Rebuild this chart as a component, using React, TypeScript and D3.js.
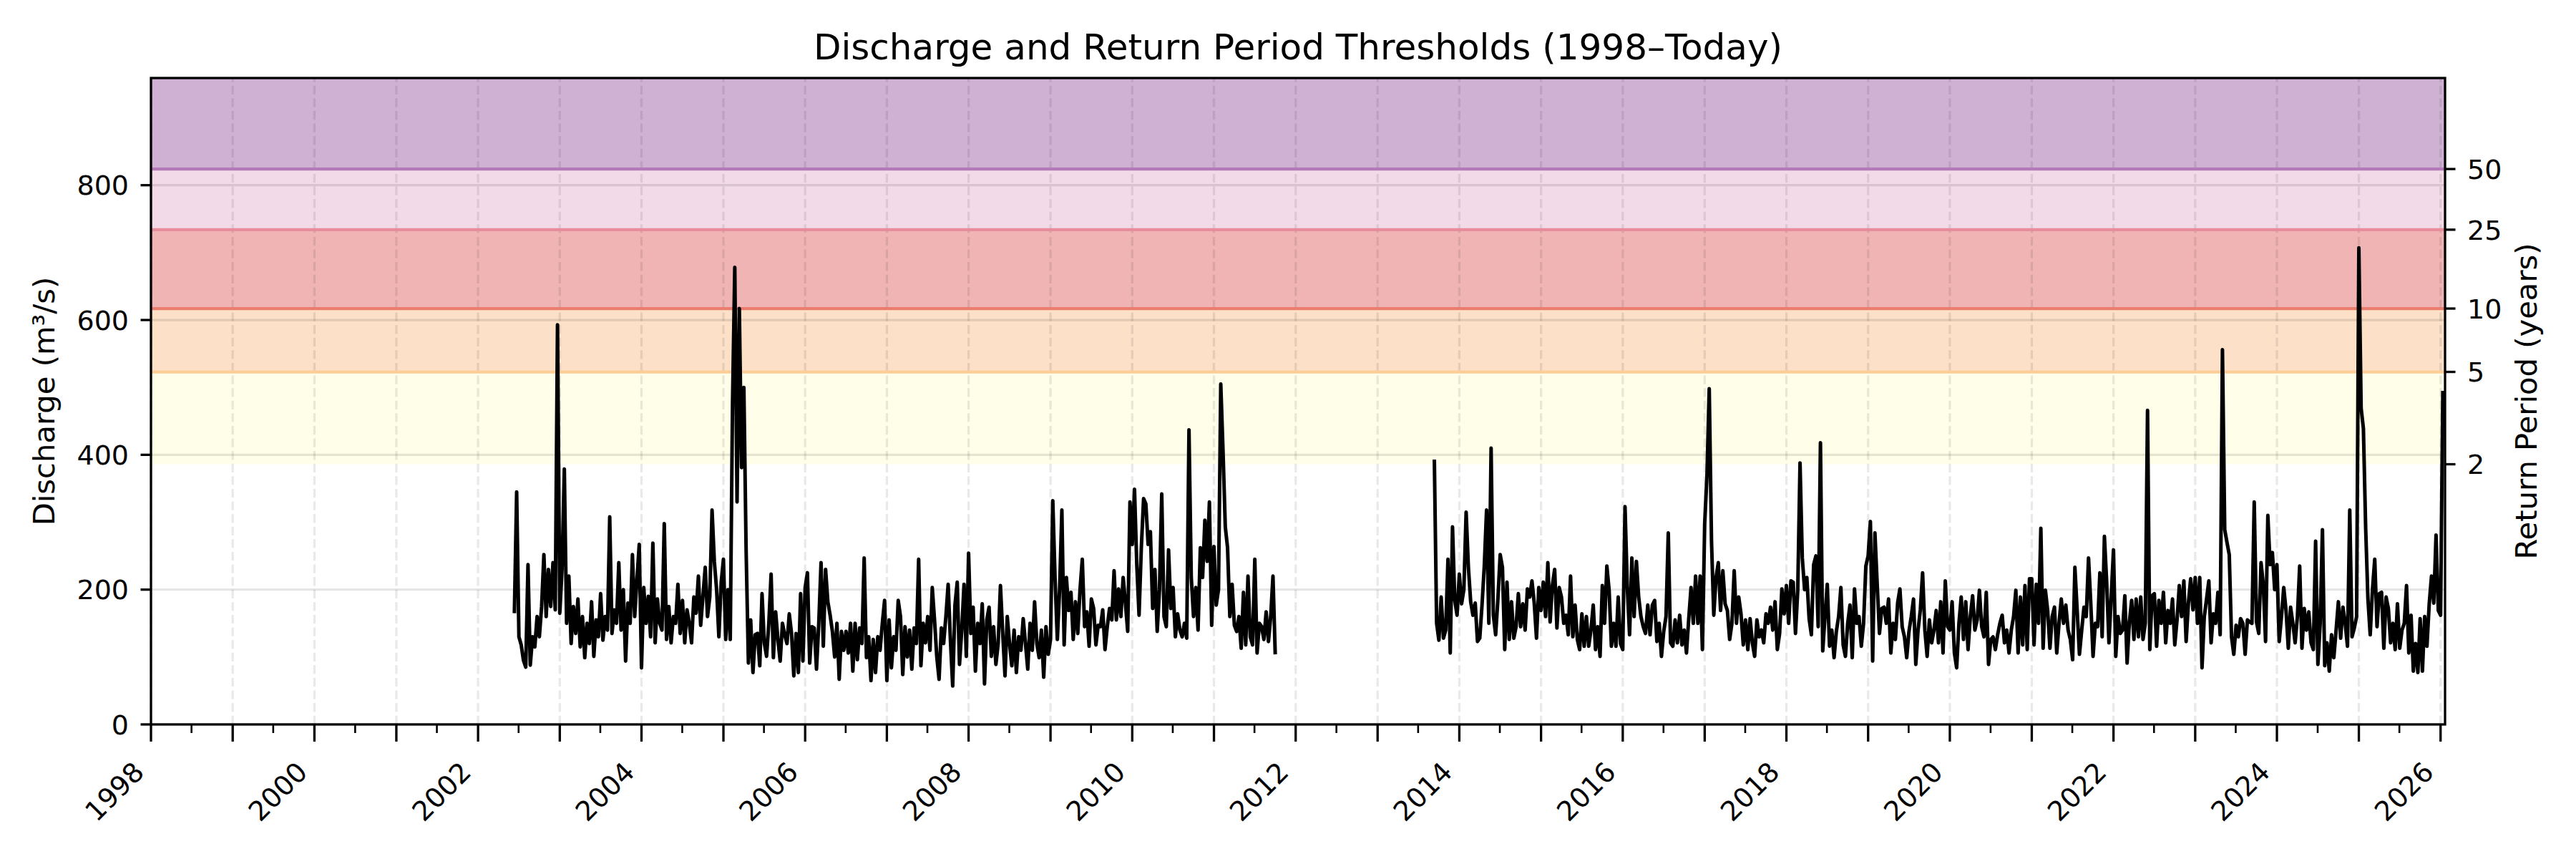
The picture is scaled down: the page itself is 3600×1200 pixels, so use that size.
import * as d3 from 'd3'

// discharge (m³/s) in 36 steps per year (≈ every 10 days)
// each entry: [year, first slot, values]
const q2002 = [165, 345, 130, 118, 95, 85, 237, 88, 130, 115, 160, 130, 175, 252, 160, 230, 175, 240, 170, 593]
const q2003 = [165, 230, 379, 150, 220, 120, 175, 135, 186, 115, 160, 99, 150, 120, 182, 101, 155, 130, 194, 125, 160, 140, 308, 135, 170, 150, 240, 140, 200, 94, 180, 150, 252, 160, 215, 267]
const q2004 = [84, 203, 150, 190, 130, 269, 121, 186, 150, 140, 298, 126, 175, 121, 160, 150, 208, 135, 184, 121, 170, 150, 121, 189, 165, 220, 147, 190, 233, 160, 189, 318, 242, 200, 130, 210]
const q2005 = [245, 126, 200, 126, 476, 678, 330, 617, 381, 500, 257, 91, 155, 77, 133, 135, 87, 194, 121, 101, 150, 223, 99, 167, 126, 94, 150, 133, 120, 164, 135, 72, 135, 77, 194, 94]
const q2006 = [203, 225, 91, 145, 143, 82, 150, 240, 116, 230, 182, 162, 138, 100, 150, 67, 138, 110, 138, 106, 150, 79, 150, 96, 143, 120, 247, 99, 130, 65, 126, 77, 130, 110, 150, 184]
const q2007 = [65, 155, 84, 130, 110, 184, 160, 74, 145, 100, 140, 82, 143, 120, 245, 87, 150, 121, 160, 110, 203, 155, 100, 67, 143, 120, 160, 208, 125, 57, 177, 211, 89, 140, 208, 101]
const q2008 = [254, 135, 174, 79, 150, 120, 179, 60, 155, 174, 101, 145, 89, 120, 206, 135, 72, 160, 120, 87, 140, 77, 130, 110, 157, 120, 82, 150, 110, 182, 120, 99, 140, 70, 145, 104]
const q2009 = [126, 332, 216, 126, 200, 318, 118, 218, 169, 196, 126, 182, 135, 200, 245, 145, 167, 116, 186, 172, 118, 147, 145, 170, 111, 145, 172, 155, 228, 155, 201, 160, 218, 180, 138, 330]
const q2010 = [267, 349, 237, 162, 262, 335, 327, 267, 286, 172, 230, 138, 200, 342, 160, 145, 259, 172, 203, 130, 164, 140, 130, 150, 128, 437, 218, 160, 203, 140, 262, 218, 303, 242, 330, 147]
const q2011 = [264, 177, 200, 505, 405, 293, 262, 160, 208, 147, 138, 160, 113, 196, 118, 220, 130, 118, 245, 106, 150, 145, 126, 167, 123, 160, 220, 104]
const q2013 = [393, 150, 125, 189, 128, 140, 245, 106, 293, 184, 162]
const q2014 = [223, 179, 200, 315, 233, 182, 162, 180, 123, 128, 177, 235, 318, 150, 410, 162, 133, 186, 252, 233, 111, 211, 126, 182, 128, 145, 194, 145, 179, 140, 201, 189, 213, 180, 128, 203]
const q2015 = [169, 211, 160, 240, 152, 206, 230, 143, 203, 189, 150, 162, 133, 220, 130, 177, 126, 111, 164, 116, 160, 116, 140, 177, 111, 145, 101, 206, 150, 235, 199, 116, 150, 116, 189, 120]
const q2016 = [111, 323, 203, 133, 247, 160, 242, 189, 160, 145, 135, 177, 133, 177, 184, 123, 150, 101, 138, 160, 284, 121, 116, 155, 121, 162, 118, 140, 106, 157, 203, 150, 220, 150, 220, 111]
const q2017 = [298, 369, 498, 272, 162, 218, 240, 169, 228, 179, 169, 126, 150, 228, 150, 189, 164, 118, 155, 111, 157, 121, 101, 155, 130, 140, 121, 164, 150, 174, 140, 182, 111, 135, 201, 164]
const q2018 = [206, 150, 213, 211, 135, 199, 388, 247, 200, 218, 157, 133, 237, 250, 145, 418, 109, 160, 208, 116, 140, 99, 138, 160, 203, 118, 101, 150, 177, 99, 201, 150, 160, 116, 150, 235]
const q2019 = [250, 301, 94, 284, 208, 135, 172, 174, 150, 186, 106, 150, 126, 180, 201, 145, 130, 99, 138, 160, 186, 89, 140, 170, 225, 140, 101, 155, 121, 140, 169, 121, 182, 106, 213, 145]
const q2020 = [140, 182, 106, 84, 150, 189, 126, 182, 111, 160, 191, 140, 155, 199, 145, 130, 196, 89, 126, 130, 111, 133, 150, 162, 121, 140, 106, 140, 160, 199, 106, 189, 118, 206, 111, 216]
const q2021 = [216, 118, 208, 150, 291, 113, 199, 169, 113, 160, 174, 106, 150, 186, 150, 177, 140, 126, 96, 233, 169, 104, 140, 174, 160, 247, 179, 101, 150, 145, 225, 130, 279, 211, 121, 190]
const q2022 = [259, 101, 160, 135, 140, 191, 91, 152, 184, 126, 186, 130, 189, 126, 150, 466, 111, 191, 194, 116, 184, 150, 196, 121, 169, 150, 186, 118, 155, 206, 160, 213, 123, 180, 216, 170]
const q2023 = [218, 150, 218, 84, 160, 186, 213, 121, 164, 150, 196, 133, 556, 289, 270, 252, 130, 104, 147, 130, 157, 150, 104, 155, 152, 150, 330, 152, 135, 240, 208, 123, 310, 237, 255, 200]
const q2024 = [237, 123, 160, 203, 169, 113, 174, 150, 121, 160, 235, 113, 172, 140, 167, 121, 111, 272, 89, 150, 289, 87, 121, 79, 133, 99, 140, 182, 128, 174, 150, 116, 318, 130, 143, 160]
const q2025 = [707, 469, 439, 291, 186, 133, 200, 245, 145, 194, 196, 113, 189, 172, 121, 150, 111, 179, 113, 140, 150, 206, 106, 162, 79, 120, 77, 157, 79, 160, 116, 179, 220, 180, 281, 169]
const q2026 = [162, 495]

const segmentA: [number, number, number[]][] = [
  [2002, 16, q2002], [2003, 0, q2003], [2004, 0, q2004], [2005, 0, q2005], [2006, 0, q2006],
  [2007, 0, q2007], [2008, 0, q2008], [2009, 0, q2009], [2010, 0, q2010], [2011, 0, q2011]
]
const segmentB: [number, number, number[]][] = [
  [2013, 25, q2013], [2014, 0, q2014], [2015, 0, q2015], [2016, 0, q2016], [2017, 0, q2017],
  [2018, 0, q2018], [2019, 0, q2019], [2020, 0, q2020], [2021, 0, q2021], [2022, 0, q2022],
  [2023, 0, q2023], [2024, 0, q2024], [2025, 0, q2025], [2026, 0, q2026]
]

// return period thresholds
const returnPeriods = [2, 5, 10, 25, 50]
const thresholds = [386, 523, 617, 734, 824]
const bandFills = ['#FFFEE8', '#FCE0C8', '#F0B4B4', '#F3DAE8', '#CFB1D3']
const bandEdges = ['none', '#FCCD96', '#EB7D6E', '#E88C9B', '#B479B9']

const yTicks = [0, 200, 400, 600, 800]
const labelYears = [1998, 2000, 2002, 2004, 2006, 2008, 2010, 2012, 2014, 2016, 2018, 2020, 2022, 2024, 2026]

const W = 3600
const H = 1200
const margin = { top: 109, right: 183, bottom: 188, left: 211 }
const FONT = 'DejaVu Sans, Verdana, sans-serif'
const STEPS = 36

type Pt = { date: Date; value: number }

function toPoints(seg: [number, number, number[]][]): Pt[] {
  const out: Pt[] = []
  seg.forEach(([year, start, vals]) => {
    const t0 = Date.UTC(year, 0, 1)
    const t1 = Date.UTC(year + 1, 0, 1)
    vals.forEach((v, k) => {
      const i = start + k
      out.push({ date: new Date(t0 + (i / STEPS) * (t1 - t0)), value: v })
    })
  })
  return out
}

export default function App() {
  const x0 = margin.left
  const x1 = W - margin.right
  const y0 = H - margin.bottom
  const y1 = margin.top

  const x = d3.scaleUtc()
    .domain([new Date(Date.UTC(1998, 0, 1)), new Date(Date.UTC(2026, 0, 21))])
    .range([x0, x1])

  const y = d3.scaleLinear()
    .domain([0, 959])
    .range([y0, y1])

  const line = d3.line<Pt>()
    .x(d => x(d.date))
    .y(d => y(d.value))

  const segments = [toPoints(segmentA), toPoints(segmentB)]

  const yearTicks = d3.utcYear.range(new Date(Date.UTC(1998, 0, 1)), new Date(Date.UTC(2026, 0, 2)))
  const halfTicks = d3.utcMonth.every(6)!
    .range(new Date(Date.UTC(1998, 0, 1)), new Date(Date.UTC(2026, 0, 21)))
    .filter(d => d.getUTCMonth() === 6)

  const bandTops = [...thresholds.slice(1), y.domain()[1]]

  return (
    <div>
      <style>{'body{margin:0}'}</style>
      <svg width={W} height={H} style={{ display: 'block', background: '#fff' }} fontFamily={FONT}>
        {/* return period bands */}
        {thresholds.map((t, i) => (
          <rect key={'band' + i}
            x={x0} width={x1 - x0}
            y={y(bandTops[i])} height={y(t) - y(bandTops[i])}
            fill={bandFills[i]} />
        ))}

        {/* grid */}
        {yTicks.slice(1).map(t => (
          <line key={'gy' + t} x1={x0} x2={x1} y1={y(t)} y2={y(t)}
            stroke="#000" strokeOpacity={0.1} strokeWidth={3.3} />
        ))}
        {yearTicks.map(d => (
          <line key={'gx' + d.getTime()} x1={x(d)} x2={x(d)} y1={y0} y2={y1}
            stroke="#000" strokeOpacity={0.085} strokeWidth={3.3} strokeDasharray="12.3,5.3" />
        ))}

        {/* threshold lines */}
        {thresholds.map((t, i) => bandEdges[i] !== 'none' && (
          <line key={'th' + i} x1={x0} x2={x1} y1={y(t)} y2={y(t)}
            stroke={bandEdges[i]} strokeWidth={4.2} />
        ))}

        {/* discharge */}
        {segments.map((pts, i) => (
          <path key={'seg' + i} d={line(pts) ?? ''} fill="none"
            stroke="#000" strokeWidth={5} strokeLinejoin="round" />
        ))}

        {/* spines */}
        <rect x={x0} y={y1} width={x1 - x0} height={y0 - y1}
          fill="none" stroke="#000" strokeWidth={3.3} />

        {/* x axis */}
        {yearTicks.map(d => (
          <line key={'tx' + d.getTime()} x1={x(d)} x2={x(d)} y1={y0} y2={y0 + 24}
            stroke="#000" strokeWidth={3.3} />
        ))}
        {halfTicks.map(d => (
          <line key={'mx' + d.getTime()} x1={x(d)} x2={x(d)} y1={y0} y2={y0 + 12}
            stroke="#000" strokeWidth={2.6} />
        ))}
        {labelYears.map(yr => {
          const px = x(new Date(Date.UTC(yr, 0, 1))) - 7.5
          const py = y0 + 69
          return (
            <text key={'lx' + yr} transform={`translate(${px},${py}) rotate(-45)`}
              textAnchor="end" fontSize={38} fill="#000">{yr}</text>
          )
        })}

        {/* left y axis */}
        {yTicks.map(t => (
          <g key={'ty' + t}>
            <line x1={x0 - 14.5} x2={x0} y1={y(t)} y2={y(t)} stroke="#000" strokeWidth={3.3} />
            <text x={x0 - 31} y={y(t)} dy="0.36em" textAnchor="end" fontSize={38} fill="#000">{t}</text>
          </g>
        ))}
        <text transform={`translate(76,${(y0 + y1) / 2}) rotate(-90)`} textAnchor="middle"
          fontSize={41.7} fill="#000">Discharge (m³/s)</text>

        {/* right axis: return periods */}
        {thresholds.map((t, i) => (
          <g key={'tr' + i}>
            <line x1={x1} x2={x1 + 14.5} y1={y(t)} y2={y(t)} stroke="#000" strokeWidth={3.3} />
            <text x={x1 + 31} y={y(t)} dy="0.36em" textAnchor="start" fontSize={38} fill="#000">
              {returnPeriods[i]}
            </text>
          </g>
        ))}
        <text transform={`translate(3545,${(y0 + y1) / 2}) rotate(-90)`} textAnchor="middle"
          fontSize={41.7} fill="#000">Return Period (years)</text>

        {/* title */}
        <text x={(x0 + x1) / 2} y={83} textAnchor="middle" fontSize={50} fill="#000">
          Discharge and Return Period Thresholds (1998–Today)
        </text>
      </svg>
    </div>
  )
}
